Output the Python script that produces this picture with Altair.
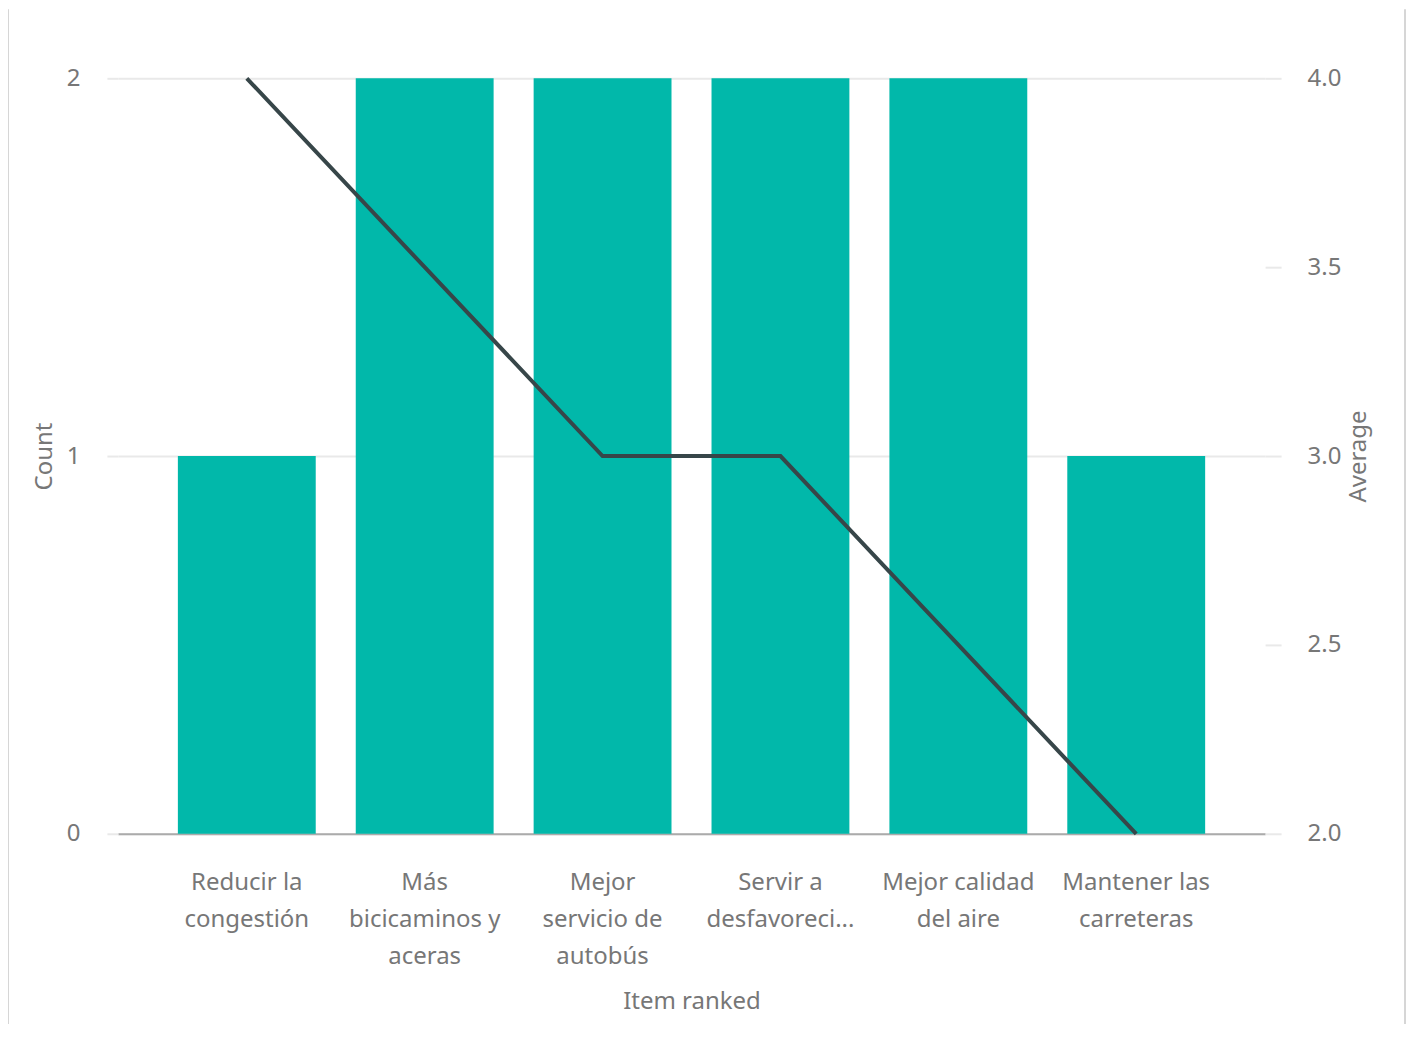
import json
import altair as alt
import pandas as pd

categories = [
    "Reducir la congestión",
    "Más bicicaminos y aceras",
    "Mejor servicio de autobús",
    "Servir a desfavoreci...",
    "Mejor calidad del aire",
    "Mantener las carreteras",
]
label_lines = [
    ["Reducir la", "congestión"],
    ["Más", "bicicaminos y", "aceras"],
    ["Mejor", "servicio de", "autobús"],
    ["Servir a", "desfavoreci..."],
    ["Mejor calidad", "del aire"],
    ["Mantener las", "carreteras"],
]
counts = [1, 2, 2, 2, 2, 1]
averages = [4.0, 3.5, 3.0, 3.0, 2.5, 2.0]
count_ticks = [0, 1, 2]
avg_ticks = [2.0, 2.5, 3.0, 3.5, 4.0]

df = pd.DataFrame({"Item ranked": categories, "Count": counts, "Average": averages})

FONT = "Noto Sans"
FS = 24
TXT = "#777777"
GRID = "#e9e9e9"
label_map = json.dumps(dict(zip(categories, label_lines)), ensure_ascii=False)

x_enc = alt.X(
    "Item ranked:N",
    sort=categories,
    scale=alt.Scale(paddingInner=0.225, paddingOuter=0.337),
    axis=alt.Axis(
        title="Item ranked",
        labelAngle=0,
        labelExpr=f"{label_map}[datum.label]",
        labelFont=FONT,
        labelFontSize=FS,
        labelColor=TXT,
        labelLineHeight=37,
        labelPadding=37,
        labelLimit=300,
        ticks=False,
        grid=False,
        domain=True,
        domainColor="#ababab",
        domainWidth=2,
        titleFont=FONT,
        titleFontSize=FS,
        titleFontWeight="normal",
        titleColor=TXT,
        titlePadding=21,
    ),
)

bars = alt.Chart(df).mark_bar(color="#01B8AA").encode(
    x=x_enc,
    y=alt.Y(
        "Count:Q",
        scale=alt.Scale(domain=[0, 2], nice=False),
        axis=alt.Axis(
            title="Count",
            values=count_ticks,
            labelExpr="format(datum.value, 'd')",
            orient="left",
            grid=True,
            gridColor=GRID,
            gridWidth=2,
            domain=False,
            ticks=True,
            tickSize=11,
            tickColor=GRID,
            tickWidth=2,
            labelFont=FONT,
            labelFontSize=FS,
            labelColor=TXT,
            labelPadding=27,
            labelOverlap=False,
            titleFont=FONT,
            titleFontSize=FS,
            titleFontWeight="normal",
            titleColor=TXT,
            titlePadding=10,
        ),
    ),
)

line = alt.Chart(df).mark_line(color="#374649", strokeWidth=4).encode(
    x=alt.X("Item ranked:N", sort=categories),
    y=alt.Y(
        "Average:Q",
        scale=alt.Scale(domain=[2, 4], nice=False, zero=False),
        axis=alt.Axis(
            title="Average",
            values=avg_ticks,
            format=".1f",
            orient="right",
            grid=False,
            domain=False,
            ticks=True,
            tickSize=16,
            tickColor=GRID,
            tickWidth=2,
            labelFont=FONT,
            labelFontSize=FS,
            labelColor=TXT,
            labelPadding=26,
            labelOverlap=False,
            titleFont=FONT,
            titleFontSize=FS,
            titleFontWeight="normal",
            titleColor=TXT,
            titleAngle=270,
            titleBaseline="top",
            titlePadding=6,
        ),
    ),
)

frame_data = alt.Data(values=[{"k": 0}])
frame_left = alt.Chart(frame_data).mark_rule(color="#c8c8c8", strokeWidth=1.5).encode(
    x=alt.value(-110), y=alt.value(-69), y2=alt.value(960)
)
frame_right = alt.Chart(frame_data).mark_rule(color="#c8c8c8", strokeWidth=1.5).encode(
    x=alt.value(1288), y=alt.value(-69), y2=alt.value(960)
)

chart = (
    alt.layer(bars, line, frame_left, frame_right)
    .resolve_scale(y="independent")
    .properties(
        width=1148,
        height=756,
        autosize=alt.AutoSizeParams(type="none"),
        padding={"left": 110, "top": 70, "right": 141, "bottom": 190},
        view=alt.ViewBackground(strokeOpacity=0, strokeWidth=0),
    )
    .configure_view(strokeOpacity=0, strokeWidth=0)
    .configure_axisY(domain=False)
    .configure(background="white")
)

chart.save("out.html", embed_options={"renderer": "svg", "actions": False})
